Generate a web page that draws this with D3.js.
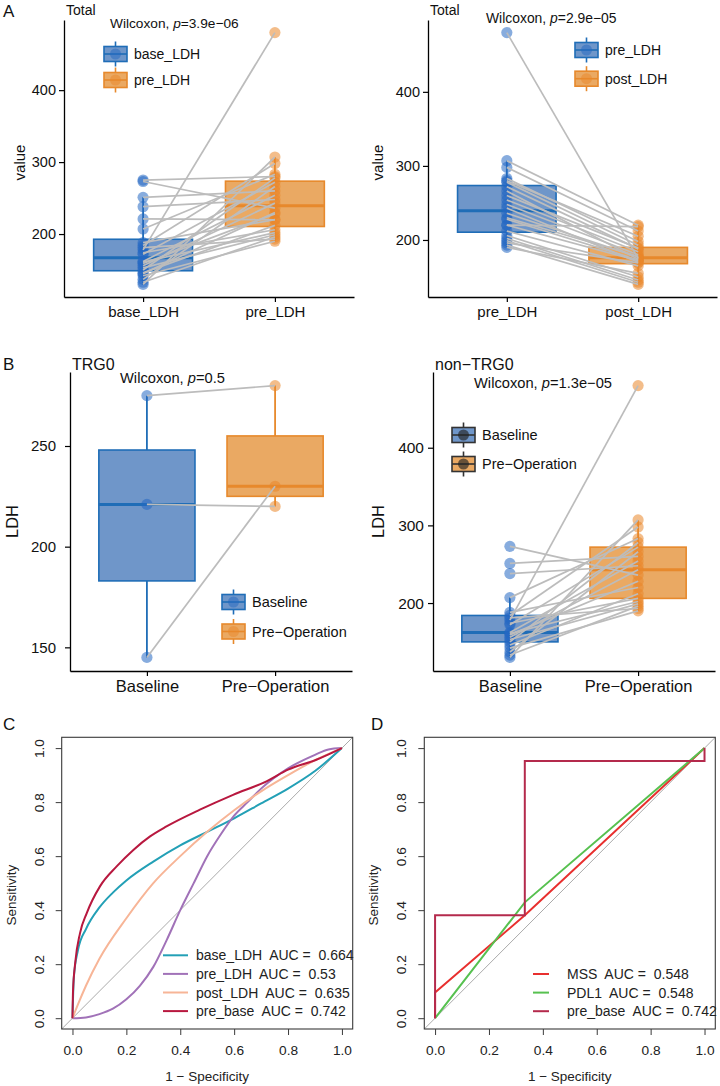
<!DOCTYPE html>
<html><head><meta charset="utf-8">
<script src="https://cdn.jsdelivr.net/npm/d3@7"></script>
<style>body{margin:0;background:#fff} svg{display:block} text{font-family:"Liberation Sans",Arial,Helvetica,sans-serif}</style>
</head><body><svg id="c" width="720" height="1086"></svg>
<script>
// ---------------- DATA ----------------
const trg0Base = [275, 221, 145];
const trg0Pre  = [280, 220, 230];
const nonBase  = [273, 251, 238, 207, 188, 184, 178, 174, 172, 181, 162, 161, 159, 156, 153, 150, 146, 142, 137, 133, 130];
const nonPre   = [236, 260, 248, 283, 220, 298, 480, 206, 272, 193, 254, 202, 228, 243, 199, 278, 212, 190, 266, 196, 307];
const totalBase = trg0Base.concat(nonBase);
const totalPre  = trg0Pre.concat(nonPre);
const totalPost = [205, 172, 178, 177, 189, 180, 198, 218, 212, 175, 150, 188, 140, 184, 146, 173, 170, 143, 193, 165, 155, 174, 169, 220];

const catsA1 = ["base_LDH", "pre_LDH"];
const catsA2 = ["pre_LDH", "post_LDH"];
const catsB  = ["Baseline", "Pre\u2212Operation"];
const ticksA = [200, 300, 400];
const ticksB1 = [150, 200, 250];
const ticksB2 = [200, 300, 400];

// ROC C curves (1 - specificity, sensitivity)
const rocBaseFpr = [0, 0.005, 0.02, 0.05, 0.1, 0.15, 0.2, 0.3, 0.4, 0.5, 0.6, 0.7, 0.8, 0.9, 1];
const rocBaseSen = [0, 0.15, 0.25, 0.33, 0.41, 0.465, 0.51, 0.58, 0.64, 0.69, 0.74, 0.795, 0.85, 0.915, 1];
const rocPreFpr  = [0, 0.05, 0.1, 0.15, 0.2, 0.25, 0.3, 0.35, 0.4, 0.45, 0.5, 0.55, 0.6, 0.65, 0.7, 0.8, 0.9, 0.95, 1];
const rocPreSen  = [0, 0.003, 0.015, 0.035, 0.07, 0.12, 0.19, 0.29, 0.4, 0.5, 0.6, 0.68, 0.75, 0.8, 0.85, 0.925, 0.975, 0.995, 1];
const rocPostFpr = [0, 0.02, 0.05, 0.1, 0.2, 0.3, 0.4, 0.5, 0.6, 0.7, 0.8, 0.9, 1];
const rocPostSen = [0, 0.05, 0.12, 0.22, 0.37, 0.5, 0.6, 0.69, 0.77, 0.84, 0.9, 0.955, 1];
const rocPbFpr   = [0, 0.002, 0.01, 0.028, 0.053, 0.102, 0.164, 0.226, 0.288, 0.349, 0.473, 0.596, 0.72, 0.8, 0.905, 1];
const rocPbSen   = [0, 0.1, 0.204, 0.315, 0.389, 0.488, 0.562, 0.623, 0.673, 0.71, 0.772, 0.827, 0.877, 0.92, 0.957, 1];
const legC = ["base_LDH  AUC =  0.664", "pre_LDH  AUC =  0.53", "post_LDH  AUC =  0.635", "pre_base  AUC =  0.742"];

// ROC D curves
const rocMssFpr = [0, 0, 0.333, 1];
const rocMssSen = [0, 0.095, 0.381, 1];
const rocPdFpr  = [0, 0.333, 1];
const rocPdSen  = [0, 0.429, 1];
const rocStepFpr = [0, 0, 0.333, 0.333, 1, 1];
const rocStepSen = [0, 0.381, 0.381, 0.952, 0.952, 1];
const legD = ["MSS  AUC =  0.548", "PDL1  AUC =  0.548", "pre_base  AUC =  0.742"];
const rocTicks = [0, 0.2, 0.4, 0.6, 0.8, 1.0];

// ---------------- STYLE ----------------
const COLS = [
  {border: "#1f6db7", fill: "#6f96c9", point: "#2468c2"},
  {border: "#e7892c", fill: "#eaa963", point: "#ea872a"}
];
const svg = d3.select("#c");
const FONT = '"Liberation Sans",Arial,Helvetica,sans-serif';

function pText(g, x, y, pre, post, size) {
  const t = g.append("text").attr("x", x).attr("y", y).attr("font-size", size).attr("fill", "#111");
  t.append("tspan").text(pre);
  t.append("tspan").attr("font-style", "italic").text("p");
  t.append("tspan").text(post);
  return t;
}

function legendKey(g, x, y, col, dark) {
  const w = 23, h = 15;
  const stroke = dark ? "#333" : col.border;
  g.append("line").attr("x1", x + w/2).attr("x2", x + w/2).attr("y1", y - h/2 - 5).attr("y2", y + h/2 + 5)
    .attr("stroke", stroke).attr("stroke-width", 1.6);
  g.append("rect").attr("x", x).attr("y", y - h/2).attr("width", w).attr("height", h)
    .attr("fill", col.fill).attr("stroke", stroke).attr("stroke-width", 1.6);
  g.append("line").attr("x1", x).attr("x2", x + w).attr("y1", y).attr("y2", y).attr("stroke", stroke).attr("stroke-width", 1.6);
  g.append("circle").attr("cx", x + w/2).attr("cy", y).attr("r", 5.5)
    .attr("fill", dark ? "#222" : col.point).attr("opacity", dark ? 0.65 : 0.5);
}

function paired(p) {
  const g = svg.append("g");
  const x = d3.scalePoint().domain(p.cats).range([p.x0, p.x1]).padding(0.6);
  const all = p.a.concat(p.b);
  const [mn, mx] = d3.extent(all);
  const pad = (mx - mn) * 0.05;
  const y = d3.scaleLinear().domain([mn - pad, mx + pad]).range([p.y1, p.y0]);
  const bw = x.step() * 0.75;
  [p.a, p.b].forEach((vals, i) => {
    const s = vals.slice().sort(d3.ascending);
    const q1 = d3.quantile(s, 0.25), med = d3.quantile(s, 0.5), q3 = d3.quantile(s, 0.75), iqr = q3 - q1;
    const lo = d3.min(s.filter(v => v >= q1 - 1.5 * iqr)), hi = d3.max(s.filter(v => v <= q3 + 1.5 * iqr));
    const cx = x(p.cats[i]), c = COLS[i];
    g.append("line").attr("x1", cx).attr("x2", cx).attr("y1", y(hi)).attr("y2", y(q3)).attr("stroke", c.border).attr("stroke-width", 1.8);
    g.append("line").attr("x1", cx).attr("x2", cx).attr("y1", y(q1)).attr("y2", y(lo)).attr("stroke", c.border).attr("stroke-width", 1.8);
    g.append("rect").attr("x", cx - bw/2).attr("y", y(q3)).attr("width", bw).attr("height", y(q1) - y(q3))
      .attr("fill", c.fill).attr("stroke", c.border).attr("stroke-width", 1.6);
    g.append("line").attr("x1", cx - bw/2).attr("x2", cx + bw/2).attr("y1", y(med)).attr("y2", y(med))
      .attr("stroke", c.border).attr("stroke-width", 3);
  });
  [p.a, p.b].forEach((vals, i) => {
    g.selectAll(null).data(vals).enter().append("circle")
      .attr("cx", x(p.cats[i])).attr("cy", d => y(d)).attr("r", 5.6)
      .attr("fill", COLS[i].point).attr("opacity", 0.55);
  });
  g.selectAll(null).data(p.a).enter().append("line")
    .attr("x1", x(p.cats[0])).attr("y1", d => y(d))
    .attr("x2", x(p.cats[1])).attr("y2", (d, k) => y(p.b[k]))
    .attr("stroke", "#bcbcbc").attr("stroke-width", 1.7);
  // axes
  const ya = g.append("g").attr("transform", `translate(${p.x0},0)`)
    .call(d3.axisLeft(y).tickValues(p.ticks).tickSize(5).tickSizeOuter(0).tickFormat(d3.format("d")));
  const xa = g.append("g").attr("transform", `translate(0,${p.y1})`)
    .call(d3.axisBottom(x).tickSize(5).tickSizeOuter(0));
  [ya, xa].forEach(a => {
    a.select(".domain").attr("stroke", "#000").attr("stroke-width", 1.3);
    a.selectAll(".tick line").attr("stroke", "#000").attr("stroke-width", 1.2);
    a.selectAll("text").attr("fill", "#111").style("font-family", FONT);
  });
  ya.selectAll("text").attr("font-size", p.tickSize).attr("x", p.tickX);
  xa.selectAll("text").attr("font-size", p.xSize).attr("y", 9);
  // title, ylab
  g.append("text").attr("x", p.x0 + 2).attr("y", p.titleY).attr("font-size", p.titleSize).attr("fill", "#111").text(p.title);
  g.append("text").attr("transform", `translate(${p.ylabX},${(p.y0 + p.y1) / 2 + p.ylabDy}) rotate(-90)`)
    .attr("text-anchor", "middle").attr("font-size", p.ylabSize).attr("fill", "#111").text(p.ylab);
  pText(g, p.pX, p.pY, "Wilcoxon, ", p.pVal, p.pSize);
  // legend
  p.cats.forEach((c, i) => {
    legendKey(g, p.legX, p.legY + i * p.legGap, COLS[i], p.dark);
    g.append("text").attr("x", p.legX + 30).attr("y", p.legY + i * p.legGap).attr("dy", "0.36em")
      .attr("font-size", p.legSize).attr("fill", "#111").text(p.legLabels[i]);
  });
}

paired({x0: 64, x1: 354, y0: 20, y1: 297, cats: catsA1, a: totalBase, b: totalPre, ticks: ticksA,
  tickSize: 14.5, tickX: -8, xSize: 15, title: "Total", titleY: 15, titleSize: 14, ylab: "value", ylabX: 25, ylabDy: 4, ylabSize: 15,
  pX: 110, pY: 28, pVal: "=3.9e\u221206", pSize: 13.7, legX: 104, legY: 54, legGap: 26, legSize: 14, legLabels: catsA1, dark: false});
paired({x0: 428, x1: 717, y0: 20, y1: 297, cats: catsA2, a: totalPre, b: totalPost, ticks: ticksA,
  tickSize: 14.5, tickX: -8, xSize: 15, title: "Total", titleY: 15, titleSize: 14, ylab: "value", ylabX: 383, ylabDy: 4, ylabSize: 15,
  pX: 486, pY: 23, pVal: "=2.9e\u221205", pSize: 13.9, legX: 575, legY: 50, legGap: 28.7, legSize: 14, legLabels: catsA2, dark: false});
paired({x0: 70, x1: 352, y0: 372, y1: 671, cats: catsB, a: trg0Base, b: trg0Pre, ticks: ticksB1,
  tickSize: 15, tickX: -14, xSize: 16.5, title: "TRG0", titleY: 370, titleSize: 16, ylab: "LDH", ylabX: 18, ylabDy: 0, ylabSize: 16.5,
  pX: 120, pY: 383, pVal: "=0.5", pSize: 14.7, legX: 222, legY: 602, legGap: 29.5, legSize: 14.5, legLabels: catsB, dark: false});
paired({x0: 433, x1: 715, y0: 372, y1: 671, cats: catsB, a: nonBase, b: nonPre, ticks: ticksB2,
  tickSize: 15.5, tickX: -9, xSize: 16.5, title: "non\u2212TRG0", titleY: 370, titleSize: 16, ylab: "LDH", ylabX: 384, ylabDy: 0, ylabSize: 16.5,
  pX: 474, pY: 388, pVal: "=1.3e\u221205", pSize: 14.7, legX: 452, legY: 435, legGap: 29, legSize: 14.5, legLabels: catsB, dark: true});

// ---------------- ROC ----------------
function roc(p) {
  const g = svg.append("g");
  const x = d3.scaleLinear().domain([-0.04, 1.04]).range([p.bx0, p.bx1]);
  const y = d3.scaleLinear().domain([-0.04, 1.04]).range([p.by1, p.by0]);
  const cid = "clip" + p.id;
  svg.append("defs").append("clipPath").attr("id", cid).append("rect")
    .attr("x", p.bx0).attr("y", p.by0).attr("width", p.bx1 - p.bx0).attr("height", p.by1 - p.by0);
  const pg = g.append("g").attr("clip-path", `url(#${cid})`);
  pg.append("line").attr("x1", x(-0.04)).attr("y1", y(-0.04)).attr("x2", x(1.04)).attr("y2", y(1.04))
    .attr("stroke", "#a0a0a0").attr("stroke-width", 0.9);
  p.curves.forEach(c => {
    const pts = c.fpr.map((f, i) => [f, c.sen[i]]);
    const line = d3.line().x(d => x(d[0])).y(d => y(d[1])).curve(c.smooth ? d3.curveMonotoneX : d3.curveLinear);
    pg.append("path").attr("d", line(pts)).attr("fill", "none").attr("stroke", c.color).attr("stroke-width", 2);
  });
  g.append("rect").attr("x", p.bx0).attr("y", p.by0).attr("width", p.bx1 - p.bx0).attr("height", p.by1 - p.by0)
    .attr("fill", "none").attr("stroke", "#3a3a3a").attr("stroke-width", 1.1);
  // x axis
  const xa = g.append("g").attr("transform", `translate(0,${p.by1})`)
    .call(d3.axisBottom(x).tickValues(rocTicks).tickSize(6).tickSizeOuter(0).tickFormat(d3.format(".1f")));
  xa.select(".domain").remove();
  xa.selectAll(".tick line").attr("stroke", "#3a3a3a");
  xa.selectAll("text").attr("font-size", 13.7).attr("fill", "#222").attr("y", 16).style("font-family", FONT);
  const ya = g.append("g").attr("transform", `translate(${p.bx0},0)`)
    .call(d3.axisLeft(y).tickValues(rocTicks).tickSize(6).tickSizeOuter(0).tickFormat(d3.format(".1f")));
  ya.select(".domain").remove();
  ya.selectAll(".tick line").attr("stroke", "#3a3a3a");
  ya.selectAll("text").attr("font-size", 13.7).attr("fill", "#222").style("font-family", FONT)
    .attr("x", null).attr("dy", null).attr("text-anchor", "middle").attr("transform", "translate(-18,0) rotate(-90)");
  g.append("text").attr("x", (x(0) + x(1)) / 2).attr("y", p.by1 + 52).attr("text-anchor", "middle")
    .attr("font-size", 13.5).attr("fill", "#222").text("1 \u2212 Specificity");
  g.append("text").attr("transform", `translate(${p.bx0 - 46},${(p.by0 + p.by1) / 2 + 12}) rotate(-90)`)
    .attr("text-anchor", "middle").attr("font-size", 13.5).attr("fill", "#222").text("Sensitivity");
  // legend
  p.curves.forEach((c, i) => {
    const yy = p.legY + i * p.legGap;
    g.append("line").attr("x1", p.legX).attr("x2", p.legX + p.legLen).attr("y1", yy).attr("y2", yy)
      .attr("stroke", c.color).attr("stroke-width", 2);
    g.append("text").attr("x", p.legTX).attr("y", yy).attr("dy", "0.36em").attr("font-size", 14)
      .attr("fill", "#222").style("white-space", "pre").text(c.label);
  });
}

roc({id: "C", bx0: 61.7, bx1: 352.7, by0: 737.3, by1: 1029,
  legX: 163, legLen: 25, legTX: 196, legY: 955.3, legGap: 18.6,
  curves: [
    {fpr: rocBaseFpr, sen: rocBaseSen, color: "#23a0b6", smooth: true, label: legC[0]},
    {fpr: rocPreFpr, sen: rocPreSen, color: "#a172b8", smooth: true, label: legC[1]},
    {fpr: rocPostFpr, sen: rocPostSen, color: "#f7b597", smooth: true, label: legC[2]},
    {fpr: rocPbFpr, sen: rocPbSen, color: "#b8183f", smooth: true, label: legC[3]}
  ]});
roc({id: "D", bx0: 424.3, bx1: 715.3, by0: 737.3, by1: 1029,
  legX: 533, legLen: 16, legTX: 567, legY: 974, legGap: 18.6,
  curves: [
    {fpr: rocMssFpr, sen: rocMssSen, color: "#e8302f", smooth: false, label: legD[0]},
    {fpr: rocPdFpr, sen: rocPdSen, color: "#57c150", smooth: false, label: legD[1]},
    {fpr: rocStepFpr, sen: rocStepSen, color: "#b42a4c", smooth: false, label: legD[2]}
  ]});

// panel letters
[["A", 3, 17], ["B", 3, 370], ["C", 3, 730], ["D", 371, 730]].forEach(d => {
  svg.append("text").attr("x", d[1]).attr("y", d[2]).attr("font-size", 17).attr("fill", "#111").text(d[0]);
});
</script></body></html>
